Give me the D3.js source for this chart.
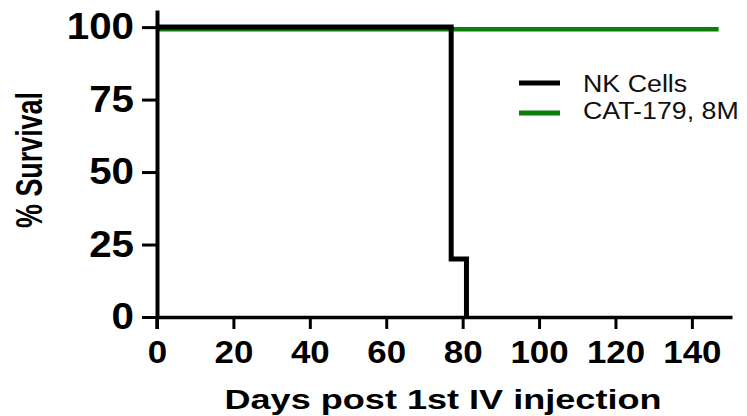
<!DOCTYPE html>
<html><head><meta charset="utf-8">
<script src="https://cdn.jsdelivr.net/npm/d3@7"></script>
<style>
body{margin:0;background:#fff;}
svg{display:block;font-family:"Liberation Sans",Arial,sans-serif;}
</style></head>
<body><svg id="c" width="747" height="416"></svg>
<script>
const seriesNames = ["NK Cells", "CAT-179, 8M"];
const seriesColors = ["#000000", "#0a7d0a"];
const nkDays = [0, 77, 81];
const nkSurvival = [100, 20, 0];
const catDays = [0, 147];
const catSurvival = [100, 100];
const xTicks = [0, 20, 40, 60, 80, 100, 120, 140];
const yTicks = [0, 25, 50, 75, 100];
const xTitle = "Days post 1st IV injection";
const yTitle = "% Survival";

const svg = d3.select("#c");
const x = d3.scaleLinear().domain([0, 150.5]).range([157, 732]);
const y = d3.scaleLinear().domain([0, 105.9]).range([317, 10]);

function stretch(sel, f){
  sel.each(function(){
    const w = this.getComputedTextLength();
    d3.select(this).attr("textLength", w*f).attr("lengthAdjust","spacingAndGlyphs");
  });
}

const line = d3.line().x(d=>x(d[0])).y(d=>y(d[1])).curve(d3.curveStepAfter);

// green series first (drawn slightly below black as in the reference)
svg.append("path")
  .datum(catDays.map((d,i)=>[d,catSurvival[i]]))
  .attr("d", line).attr("fill","none")
  .attr("stroke", seriesColors[1]).attr("stroke-width",4.5)
  .attr("transform","translate(0,2.2)");

svg.append("path")
  .datum(nkDays.map((d,i)=>[d,nkSurvival[i]]))
  .attr("d", line).attr("fill","none")
  .attr("stroke", seriesColors[0]).attr("stroke-width",5)
  .attr("stroke-linejoin","miter");

// axes
const xAxis = svg.append("g").attr("transform",`translate(0,${y(0)})`)
  .call(d3.axisBottom(x).tickValues(xTicks).tickSize(12).tickSizeOuter(0).tickPadding(11));
xAxis.select(".domain").attr("stroke-width",3.5);
xAxis.selectAll(".tick line").attr("stroke-width",3);
xAxis.selectAll(".tick text").attr("font-size",32).attr("font-weight","bold")
  .attr("font-family",'"Liberation Sans",Arial,sans-serif').attr("fill","#000");

const yAxis = svg.append("g").attr("transform",`translate(${x(0)},0)`)
  .call(d3.axisLeft(y).tickValues(yTicks).tickSize(15).tickSizeOuter(0).tickPadding(8));
yAxis.select(".domain").attr("stroke-width",4);
yAxis.selectAll(".tick line").attr("stroke-width",3);
yAxis.selectAll(".tick text").attr("font-size",36).attr("font-weight","bold")
  .attr("font-family",'"Liberation Sans",Arial,sans-serif').attr("fill","#000");

// y axis extends down below origin like a tick
svg.append("line").attr("x1",x(0)).attr("x2",x(0)).attr("y1",y(0)).attr("y2",y(0)+12)
  .attr("stroke","#000").attr("stroke-width",3.5);

stretch(xAxis.selectAll(".tick text"), 1.09);
stretch(yAxis.selectAll(".tick text"), 1.12);

// titles
const xt = svg.append("text").attr("x",443).attr("y",409).attr("text-anchor","middle")
  .attr("font-size",28).attr("font-weight","bold").text(xTitle);
xt.attr("textLength",437).attr("lengthAdjust","spacingAndGlyphs");

const yt = svg.append("text").attr("transform","translate(42,160) rotate(-90)")
  .attr("text-anchor","middle").attr("font-size",36).attr("font-weight","bold").text(yTitle);
yt.attr("textLength",136).attr("lengthAdjust","spacingAndGlyphs");

// legend
const leg = svg.append("g");
const legY = [83, 113];
const legTextY = [92, 119];
seriesNames.forEach((n,i)=>{
  leg.append("line").attr("x1",519).attr("x2",560).attr("y1",legY[i]).attr("y2",legY[i])
    .attr("stroke",seriesColors[i]).attr("stroke-width",5);
  const t = leg.append("text").attr("x",583).attr("y",legTextY[i]).attr("font-size",23.5)
    .attr("fill","#111").text(n);
  stretch(t, 1.14);
});
</script></body></html>
